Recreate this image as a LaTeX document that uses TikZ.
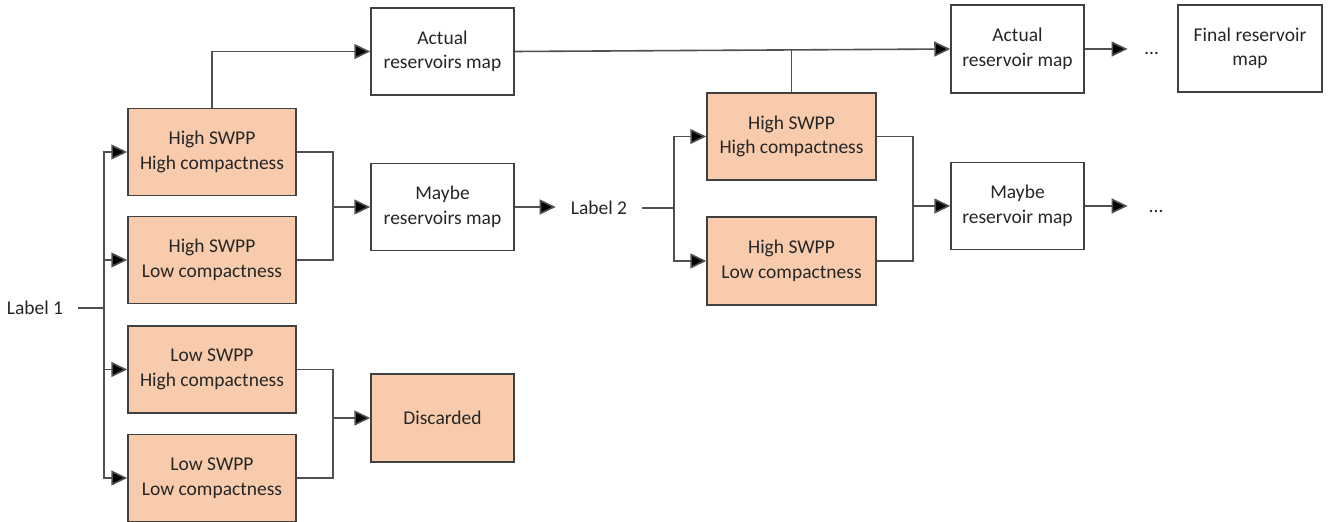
\documentclass[tikz,border=0pt]{standalone}
\usepackage{fontspec}
\setmainfont{Carlito}
\usetikzlibrary{arrows.meta}

\definecolor{boxfill}{HTML}{F8CBAD}
\definecolor{boxedge}{HTML}{404040}
\definecolor{wire}{HTML}{505050}
\definecolor{ink}{HTML}{262626}

\tikzset{
  base/.style={draw=boxedge, line width=1.5bp, align=center, text=ink,
    font=\fontsize{19.5bp}{24.5bp}\selectfont, inner sep=0pt},
  classbox/.style={base, fill=boxfill, minimum width=168bp, minimum height=87bp},
  mapbox/.style={base, fill=white, minimum width=143bp, minimum height=87bp},
  mapboxnarrow/.style={base, fill=white, minimum width=133bp, minimum height=88bp},
  labeltext/.style={text=ink, font=\fontsize{19.5bp}{24.5bp}\selectfont, inner xsep=15bp, inner ysep=2bp},
  dotstext/.style={text=ink, font=\fontsize{19.5bp}{24.5bp}\selectfont, inner xsep=17bp, inner ysep=0pt},
  wireline/.style={draw=wire, line width=1.6bp},
  arr/.style={wireline, -{Triangle[length=16bp, width=15bp, fill=black]}},
}

\begin{document}
\begin{tikzpicture}[x=1bp, y=-1bp]
  \useasboundingbox (0,0) rectangle (1331,522);

  % first stage
  \node[labeltext] (l1) at (35,308) {Label 1};
  \node[classbox] (b1) at (212,152)   {High SWPP\\High compactness};
  \node[classbox] (b2) at (212,260)   {High SWPP\\Low compactness};
  \node[classbox] (b3) at (212,369.5) {Low SWPP\\High compactness};
  \node[classbox] (b4) at (212,478)   {Low SWPP\\Low compactness};

  \node[mapbox] (act1)  at (442.5,51.5) {Actual\\reservoirs map};
  \node[mapbox] (may1)  at (442.5,207)  {Maybe\\reservoirs map};
  \node[mapbox, fill=boxfill, minimum height=88bp] (disc) at (442.5,418) {Discarded};

  % second stage
  \node[labeltext] (l2) at (599,208) {Label 2};
  \node[classbox, minimum width=169bp] (c1) at (791.5,136.5) {High SWPP\\High compactness};
  \node[classbox, minimum width=169bp, minimum height=88bp] (c2) at (791.5,261) {High SWPP\\Low compactness};

  \node[mapboxnarrow] (act2) at (1017.5,49)   {Actual\\reservoir map};
  \node[mapboxnarrow, minimum height=87bp] (may2) at (1017.5,206) {Maybe\\reservoir map};
  \node[mapbox, minimum width=144bp] (final) at (1250,48.5) {Final reservoir\\map};

  \node[dotstext] (d1) at (1151.5,53)  {…};
  \node[dotstext] (d2) at (1156,211)   {…};

  % junction points
  \coordinate (j1) at (104,308);
  \coordinate (m1) at (333,207);
  \coordinate (m2) at (333,418);
  \coordinate (j2) at (674,208);
  \coordinate (m3) at (913,206);

  % label 1 fan-out
  \draw[wireline] (l1.east) -- (j1);
  \draw[arr] (j1) |- (b1.west);
  \draw[arr] (j1) |- (b2.west);
  \draw[arr] (j1) |- (b3.west);
  \draw[arr] (j1) |- (b4.west);

  % merges into the maps
  \draw[wireline] (b1.east) -| (m1) |- (b2.east);
  \draw[arr] (m1) -- (may1.west);
  \draw[wireline] (b3.east) -| (m2) |- (b4.east);
  \draw[arr] (m2) -- (disc.west);
  \draw[arr] (b1.north) |- (act1.west);

  % towards the second stage
  \draw[arr] (may1.east) -- (may1.east -| l2.west);
  \draw[arr] (act1.east) -- (act2.west);
  \draw[wireline] (c1.north) -- (c1.north |- act2.west);

  % label 2 fan-out
  \draw[wireline] (l2.east) -- (j2);
  \draw[arr] (j2) |- (c1.west);
  \draw[arr] (j2) |- (c2.west);
  \draw[wireline] (c1.east) -| (m3) |- (c2.east);
  \draw[arr] (m3) -- (may2.west);

  % continuation
  \draw[arr] (act2.east) -- (act2.east -| d1.west);
  \draw[arr] (may2.east) -- (may2.east -| d1.west);
\end{tikzpicture}
\end{document}
